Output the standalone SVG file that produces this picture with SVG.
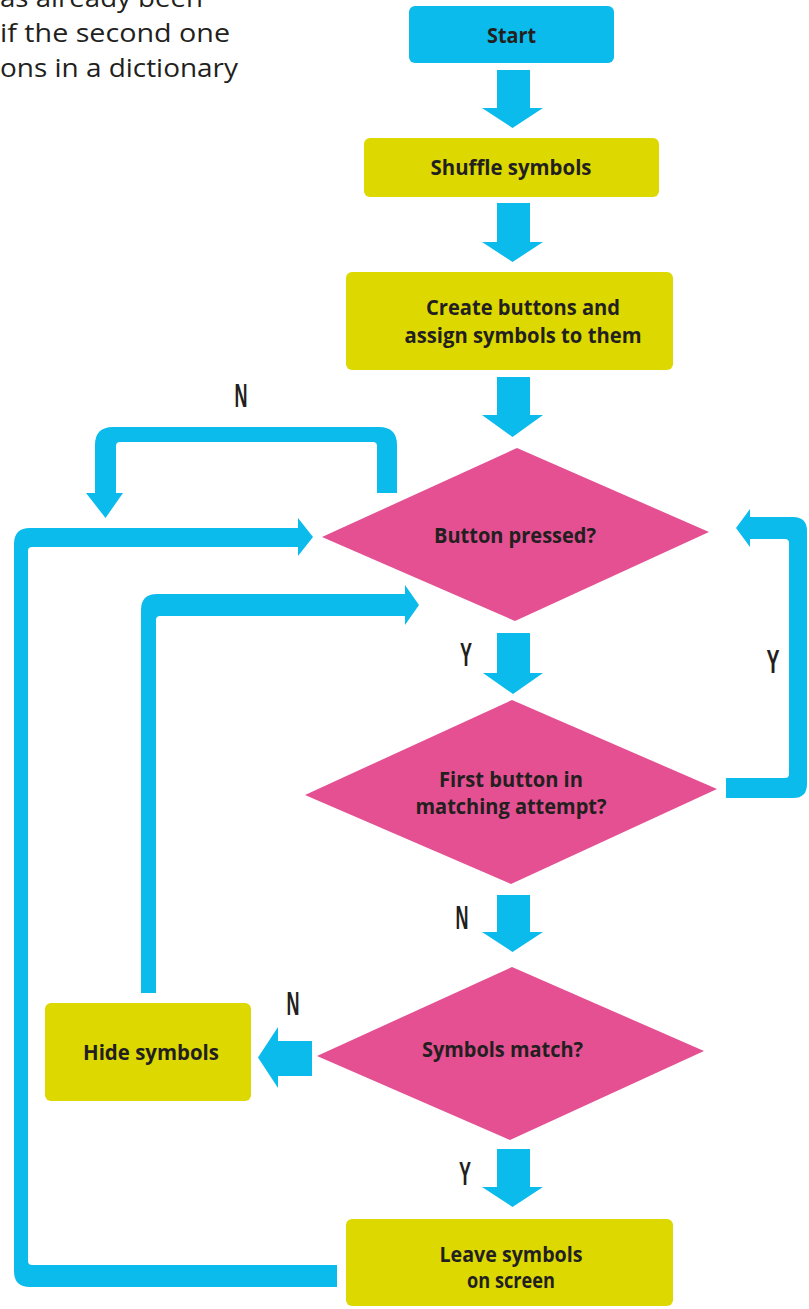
<svg xmlns="http://www.w3.org/2000/svg" width="809" height="1309" viewBox="0 0 809 1309">
<style>
.cy{fill:#0BBBEC}
.yl{fill:#DCD800}
.pk{fill:#E45092}
.lb{font-family:"Open Sans","Noto Sans","Liberation Sans",sans-serif;font-weight:700;font-size:21px;fill:#231F20;text-anchor:middle}
.yn{font-family:"Liberation Sans Narrow","Liberation Sans",sans-serif;font-weight:700;font-size:33px;fill:#231F20;text-anchor:middle}
.pg{font-family:"Open Sans","Noto Sans","Liberation Sans",sans-serif;font-size:26px;fill:#231F20}
</style>
<rect width="809" height="1309" fill="#FFFFFF"/>
<g id="intro-text">
<text class="pg" x="0" y="7" textLength="203" lengthAdjust="spacingAndGlyphs">as already been</text>
<text class="pg" x="0" y="42" textLength="230" lengthAdjust="spacingAndGlyphs">if the second one</text>
<text class="pg" x="0" y="77" textLength="238" lengthAdjust="spacingAndGlyphs">ons in a dictionary</text>
</g>
<g id="connectors" class="cy">
<polygon points="497,70 530,70 530,108 543,108 512.5,128 482,108 497,108"/>
<polygon points="497,203 530,203 530,242 543,242 512.5,262 482,242 497,242"/>
<polygon points="497,377 530,377 530,415 543,415 512.5,437 482,415 497,415"/>
<polygon points="497,633 530,633 530,673 543,673 513,694 483,673 497,673"/>
<polygon points="497,895 530,895 530,932 543,932 512.5,952 482,932 497,932"/>
<polygon points="497,1149 530,1149 530,1187 543,1187 512.5,1207 482,1187 497,1187"/>
<polygon points="312,1041 312,1076 278,1076 278,1088 258,1057.5 278,1027 278,1041"/>
<path d="M397,493 V445 Q397,427 379,427 H113 Q95,427 95,445 V493 H86 L105.5,518 L123,493 H116 V446 Q116,442 120,442 H373 Q377,442 377,446 V493 Z"/>
<path d="M337,1265 V1287 H30 Q14,1287 14,1271 V544 Q14,528 30,528 H298 V518 L313,537 L298,556 V547 H32 Q28,547 28,551 V1261 Q28,1265 32,1265 Z"/>
<path d="M141,993 V610 Q141,594 157,594 H405 V585 L419,605 L405,625 V616 H160 Q156,616 156,620 V993 Z"/>
<path d="M726,778 H785 Q789,778 789,774 V543 Q789,539 785,539 H750 V547 L736,528 L750,509 V517 H793 Q807,517 807,531 V784 Q807,798 793,798 H726 Z"/>
</g>
<g id="labels">
<text class="yn" x="241" y="407" textLength="13" lengthAdjust="spacingAndGlyphs">N</text>
<text class="yn" x="466" y="666" textLength="12" lengthAdjust="spacingAndGlyphs">Y</text>
<text class="yn" x="773" y="673" textLength="13" lengthAdjust="spacingAndGlyphs">Y</text>
<text class="yn" x="462" y="929" textLength="13" lengthAdjust="spacingAndGlyphs">N</text>
<text class="yn" x="293" y="1015" textLength="13" lengthAdjust="spacingAndGlyphs">N</text>
<text class="yn" x="465" y="1185" textLength="12" lengthAdjust="spacingAndGlyphs">Y</text>
</g>
<g id="start">
<rect class="cy" x="409" y="6" width="205" height="57" rx="6"/>
<text class="lb" x="511.5" y="43" textLength="49" lengthAdjust="spacingAndGlyphs">Start</text>
</g>
<g id="shuffle">
<rect class="yl" x="364" y="138" width="295" height="59" rx="6"/>
<text class="lb" x="511" y="175" textLength="161" lengthAdjust="spacingAndGlyphs">Shuffle symbols</text>
</g>
<g id="create">
<rect class="yl" x="346" y="272" width="327" height="98" rx="6"/>
<text class="lb" x="523" y="315" textLength="194" lengthAdjust="spacingAndGlyphs">Create buttons and</text>
<text class="lb" x="523" y="343" textLength="237" lengthAdjust="spacingAndGlyphs">assign symbols to them</text>
</g>
<g id="button-pressed">
<polygon class="pk" points="322,537 517,448 709,532 515,621"/>
<text class="lb" x="515" y="543" textLength="162" lengthAdjust="spacingAndGlyphs">Button pressed?</text>
</g>
<g id="first-button">
<polygon class="pk" points="305,795 512,700 717,789 511,884"/>
<text class="lb" x="511" y="787" textLength="144" lengthAdjust="spacingAndGlyphs">First button in</text>
<text class="lb" x="511" y="814" textLength="191" lengthAdjust="spacingAndGlyphs">matching attempt?</text>
</g>
<g id="symbols-match">
<polygon class="pk" points="317,1056 512,967 704,1051 510,1140"/>
<text class="lb" x="502.5" y="1057" textLength="161" lengthAdjust="spacingAndGlyphs">Symbols match?</text>
</g>
<g id="hide">
<rect class="yl" x="45" y="1003" width="206" height="98" rx="6"/>
<text class="lb" x="151" y="1060" textLength="136" lengthAdjust="spacingAndGlyphs">Hide symbols</text>
</g>
<g id="leave">
<rect class="yl" x="346" y="1219" width="327" height="87" rx="6"/>
<text class="lb" x="511" y="1262" textLength="143" lengthAdjust="spacingAndGlyphs">Leave symbols</text>
<text class="lb" x="511" y="1288" textLength="88" lengthAdjust="spacingAndGlyphs">on screen</text>
</g>
</svg>
